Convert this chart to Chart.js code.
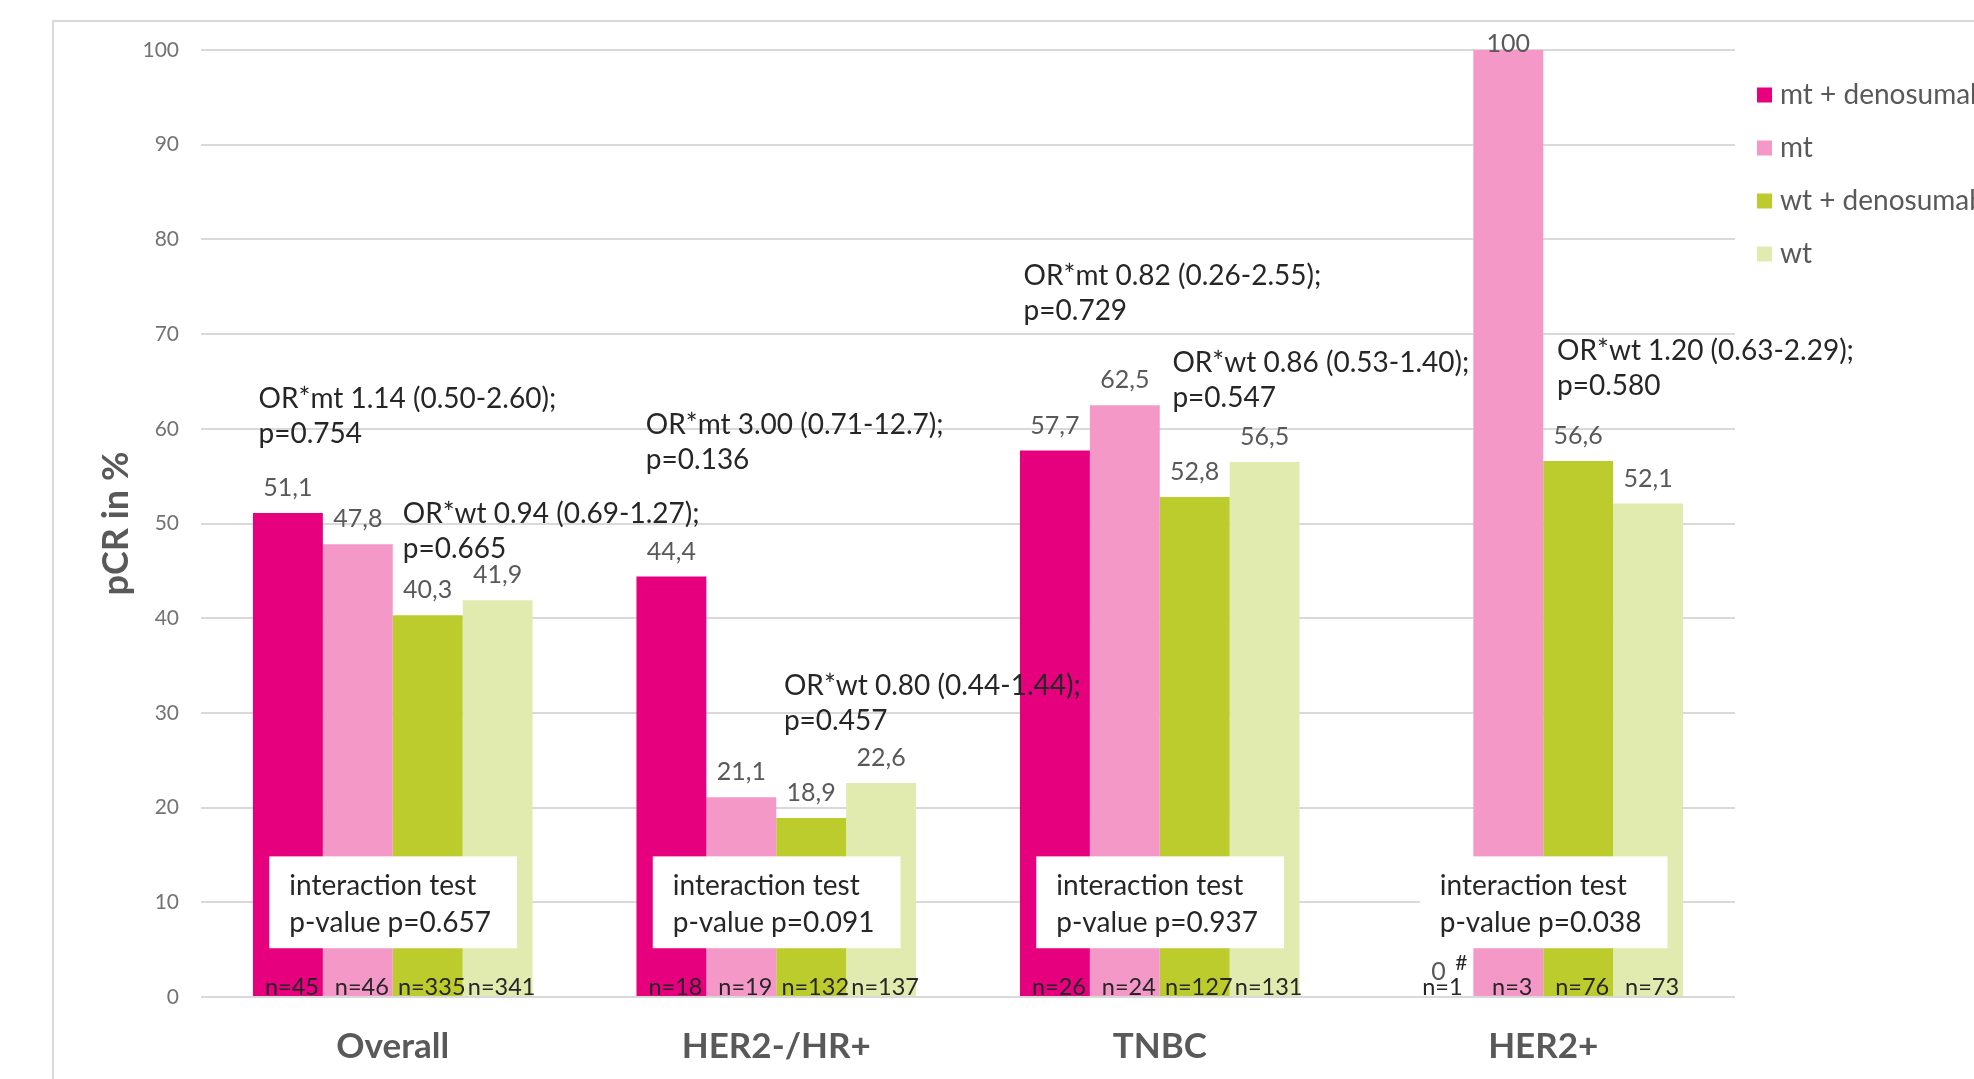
<!DOCTYPE html>
<html>
<head>
<meta charset="utf-8">
<script src="https://cdn.jsdelivr.net/npm/chart.js@4/dist/chart.umd.min.js"></script>
<style>
  html, body { margin: 0; padding: 0; background: #ffffff; overflow: hidden; }
  canvas { display: block; }
</style>
</head>
<body>
<canvas id="c" width="1974" height="1079"></canvas>
<script>
// Subgroups and series
const categories = ['Overall', 'HER2-/HR+', 'TNBC', 'HER2+'];
const seriesNames = ['mt + denosumab', 'mt', 'wt + denosumab', 'wt'];

// pCR rates in %
const mtDenosumab = [51.1, 44.4, 57.7, 0];
const mt = [47.8, 21.1, 62.5, 100];
const wtDenosumab = [40.3, 18.9, 52.8, 56.6];
const wt = [41.9, 22.6, 56.5, 52.1];

// patients per bar
const nMtDenosumab = [45, 18, 26, 1];
const nMt = [46, 19, 24, 3];
const nWtDenosumab = [335, 132, 127, 76];
const nWt = [341, 137, 131, 73];

// footnote marks next to the mt + denosumab values
const marksMtDenosumab = ['', '', '', '#'];

// interaction test p-values per subgroup
const interactionP = ['0.657', '0.091', '0.937', '0.038'];

// odds ratios with 95% CI and p-values
const orText = [
  'OR*mt 1.14 (0.50-2.60);', 'OR*wt 0.94 (0.69-1.27);',
  'OR*mt 3.00 (0.71-12.7);', 'OR*wt 0.80 (0.44-1.44);',
  'OR*mt 0.82 (0.26-2.55);', 'OR*wt 0.86 (0.53-1.40);',
  'OR*wt 1.20 (0.63-2.29);'
];
const orP = ['p=0.754', 'p=0.665', 'p=0.136', 'p=0.457', 'p=0.729', 'p=0.547', 'p=0.580'];

// y axis tick values
const yTicks = [0, 10, 20, 30, 40, 50, 60, 70, 80, 90, 100];

// ---- layout & style (kept apart from the data) ----
const colors = ['#E6007E', '#F498C8', '#BDCC2D', '#E2EBAF'];
const FONT = 'Lato, "Open Sans", "Liberation Sans", sans-serif';
const f = (size, weight) => `${weight || 'normal'} ${size}px ${FONT}`;

// annotation anchors: [category position, baseline in axis units]
const orAnchor = [
  [-0.350, 62.2], [0.026, 50.05],
  [0.660, 59.45], [1.020, 31.9],
  [1.645, 75.2], [2.033, 66.0],
  [3.036, 67.3]
];
// interaction box: category offsets and vertical extent in axis units
const boxSpan = { from: -0.322, to: 0.324, top: 14.85, bottom: 5.15 };

const counts = [nMtDenosumab, nMt, nWtDenosumab, nWt];
const marks = [marksMtDenosumab, [], [], []];

const fmt = v => Number.isInteger(v) ? String(v) : v.toFixed(1).replace('.', ',');

const target = { left: 201, right: 1735, top: 50, bottom: 997 };

const decorations = {
  id: 'decorations',
  beforeDraw(chart) {
    const ctx = chart.ctx;
    ctx.save();
    // outer chart frame
    ctx.strokeStyle = '#d9d9d9';
    ctx.lineWidth = 2;
    ctx.beginPath();
    ctx.moveTo(53, chart.height + 5);
    ctx.lineTo(53, 21);
    ctx.lineTo(chart.width + 5, 21);
    ctx.stroke();
    ctx.restore();
  },
  afterDatasetsDraw(chart) {
    const { ctx, chartArea, scales: { x, y } } = chart;
    const catW = x.getPixelForValue(1) - x.getPixelForValue(0);
    const catX = c => x.getPixelForValue(0) + c * catW;
    const zero = y.getPixelForValue(0);
    ctx.save();

    // interaction test boxes
    categories.forEach((cat, i) => {
      const l = catX(i + boxSpan.from), r = catX(i + boxSpan.to);
      const t = y.getPixelForValue(boxSpan.top), b = y.getPixelForValue(boxSpan.bottom);
      ctx.fillStyle = '#ffffff';
      ctx.fillRect(l, t, r - l, b - t);
      ctx.fillStyle = '#262626';
      ctx.font = f(28);
      ctx.textAlign = 'left';
      ctx.textBaseline = 'alphabetic';
      ctx.fillText('interaction test', l + 20, t + 39);
      ctx.fillText('p-value p=' + interactionP[i], l + 20, t + 76);
    });

    // value labels, footnote marks and patient counts
    chart.data.datasets.forEach((ds, di) => {
      const meta = chart.getDatasetMeta(di);
      meta.data.forEach((bar, i) => {
        const v = ds.data[i];
        const ty = Math.max(bar.y - 25, chartArea.top - 6);
        ctx.fillStyle = '#595959';
        ctx.font = f(25);
        ctx.textAlign = 'center';
        ctx.textBaseline = 'middle';
        ctx.fillText(fmt(v), bar.x, ty);
        const m = marks[di][i];
        if (m) {
          ctx.fillStyle = '#262626';
          ctx.font = f(21);
          ctx.fillText(m, bar.x + 23, ty - 9);
        }
        ctx.fillStyle = '#262626';
        ctx.font = f(23.5);
        ctx.textBaseline = 'alphabetic';
        ctx.fillText('n=' + counts[di][i], bar.x + 4, zero - 2);
      });
    });

    // odds ratio annotations
    ctx.fillStyle = '#262626';
    ctx.font = f(28);
    ctx.textAlign = 'left';
    ctx.textBaseline = 'alphabetic';
    orText.forEach((txt, k) => {
      const px = catX(orAnchor[k][0]);
      const py = y.getPixelForValue(orAnchor[k][1]);
      ctx.fillText(txt, px, py);
      ctx.fillText(orP[k], px, py + 35);
    });

    // y axis title
    ctx.save();
    ctx.translate(chartArea.left - 85, (chartArea.top + chartArea.bottom) / 2);
    ctx.rotate(-Math.PI / 2);
    ctx.fillStyle = '#595959';
    ctx.font = f(36, 'bold');
    ctx.textAlign = 'center';
    ctx.textBaseline = 'middle';
    ctx.fillText('pCR in %', 0, 0);
    ctx.restore();

    // legend
    chart.data.datasets.forEach((ds, di) => {
      const cy = chartArea.top + 45 + di * 53;
      ctx.fillStyle = ds.backgroundColor;
      ctx.fillRect(chartArea.right + 22, cy - 7.5, 15, 15);
      ctx.fillStyle = '#595959';
      ctx.font = f(28);
      ctx.textAlign = 'left';
      ctx.textBaseline = 'middle';
      ctx.fillText(ds.label, chartArea.right + 45, cy);
    });

    ctx.restore();
  }
};

const seriesValues = [mtDenosumab, mt, wtDenosumab, wt];

const chart = new Chart(document.getElementById('c'), {
  type: 'bar',
  data: {
    labels: categories,
    datasets: seriesNames.map((name, i) => ({
      label: name,
      data: seriesValues[i],
      backgroundColor: colors[i],
      borderWidth: 0,
      categoryPercentage: 0.729,
      barPercentage: 1.0
    }))
  },
  options: {
    responsive: false,
    devicePixelRatio: 1,
    animation: false,
    layout: { padding: { left: 100, right: 239, top: 38, bottom: 0 } },
    plugins: {
      legend: { display: false },
      tooltip: { enabled: false },
      title: { display: false }
    },
    scales: {
      x: {
        grid: { display: false, drawTicks: false },
        border: { display: false },
        ticks: {
          color: '#595959',
          font: { family: FONT, size: 35, weight: 'bold' },
          padding: 29
        }
      },
      y: {
        min: 0,
        max: 100,
        afterBuildTicks: s => { s.ticks = yTicks.map(v => ({ value: v })); },
        grid: { color: '#d9d9d9', lineWidth: 2, drawTicks: false },
        border: { display: false },
        ticks: {
          color: '#737373',
          font: { family: FONT, size: 21 },
          padding: 22
        }
      }
    }
  },
  plugins: [decorations]
});

// pin the plot area to its intended place
(function fitArea() {
  const ca = chart.chartArea;
  const p = chart.config.options.layout.padding;
  const next = {
    left: p.left + (target.left - ca.left),
    right: p.right + (ca.right - target.right),
    top: p.top + (target.top - ca.top),
    bottom: p.bottom + (ca.bottom - target.bottom)
  };
  chart.config.options.layout.padding = next;
  chart.update('none');
})();
</script>
</body>
</html>
